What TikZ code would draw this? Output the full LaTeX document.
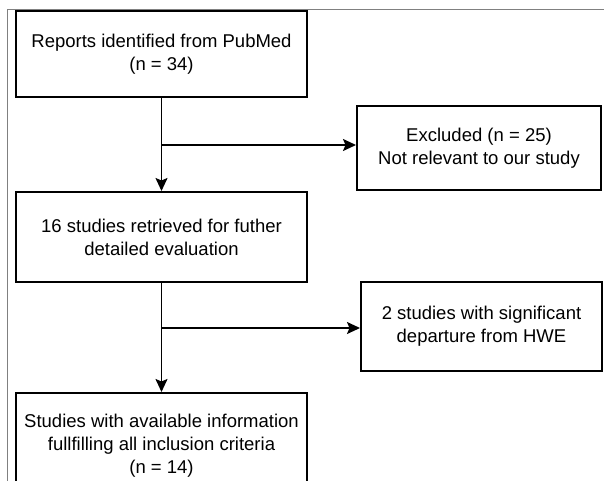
\documentclass[tikz,border=0pt]{standalone}
\usepackage{fontspec}
\setmainfont{Liberation Sans}
\usetikzlibrary{arrows.meta}

\begin{document}
\begin{tikzpicture}[x=1pt,y=-1pt,>={Stealth[length=13pt,width=12pt,inset=2.5pt]}]
\tikzstyle{box}=[draw,line width=2pt,align=center,inner sep=0pt,font=\fontsize{18.5}{23}\selectfont]
\tikzstyle{link}=[line width=1.6pt]
\clip (0,0) rectangle (604,481);
\fill[white] (0,0) rectangle (604,481);
\draw[gray,line width=1pt] (604,10) -- (7.5,10) -- (7.5,481);

\node[box,minimum width=291pt,minimum height=86pt] (r1) at (161.5,54) {Reports identified from PubMed\\(n = 34)};
\node[box,minimum width=291pt,minimum height=90pt] (r2) at (161.5,237) {16 studies retrieved for futher\\detailed evaluation};
\node[box,minimum width=291pt,minimum height=106pt] (r3) at (161.5,446) {Studies with available information\\fullfilling all inclusion criteria\\(n = 14)};

\node[box,minimum width=244pt,minimum height=84pt] (x1) at (479,148) {Excluded (n = 25)\\Not relevant to our study};
\node[box,minimum width=241pt,minimum height=89pt] (x2) at (481.5,326.5) {2 studies with significant\\departure from HWE};

\coordinate (b1) at (r1.south |- 0,145);
\coordinate (b2) at (r2.south |- 0,328);

\draw[link,->] (r1) -- (r2);
\draw[link,->] (r2) -- (r3);
\draw[link,->] (b1) -- (b1 -| x1.west);
\draw[link,->] (b2) -- (b2 -| x2.west);

\end{tikzpicture}
\end{document}
